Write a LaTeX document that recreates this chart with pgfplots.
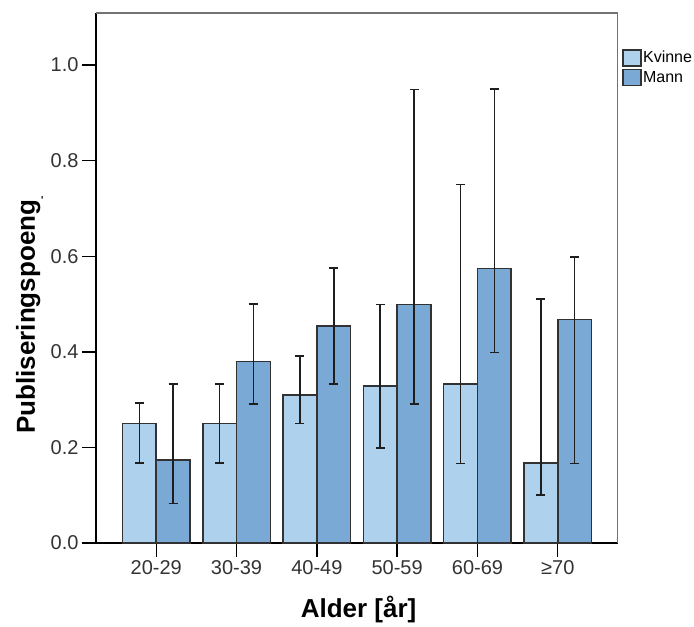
\documentclass[border=0pt]{standalone}
\usepackage{fontspec}
\setmainfont{Liberation Sans}
\usepackage{pgfplots}
\pgfplotsset{compat=1.18}

\definecolor{kvinne}{RGB}{174,209,238}
\definecolor{mann}{RGB}{122,169,214}
\definecolor{edge}{RGB}{50,50,50}
\definecolor{ebar}{RGB}{30,30,30}

\pgfplotsset{
    barstyle/.style={ybar, bar shift=0pt, draw=edge, line width=1.5pt,
        error bars/y dir=both, error bars/y explicit,
        error bars/error bar style={line width=1.6pt, ebar},
        error bars/error mark options={rotate=90, mark size=4.5pt, line width=1.6pt, ebar}},
}

\begin{document}
\begin{tikzpicture}
\useasboundingbox (-96pt,-84pt) rectangle (598pt,543pt);
\begin{axis}[
    at={(0pt,0pt)}, anchor=south west,
    scale only axis,
    width=522pt, height=530pt,
    xmin=-0.75, xmax=5.75,
    ymin=0, ymax=1.109,
    axis x line*=bottom, axis y line*=left,
    axis line style={black, line width=1.4pt},
    xtick={0,...,5},
    xticklabels={20-29,30-39,40-49,50-59,60-69,≥70},
    ytick={0,0.2,0.4,0.6,0.8,1.0},
    yticklabel style={/pgf/number format/.cd, fixed, fixed zerofill, precision=1},
    /pgf/number format/assume math mode=true,
    tick align=outside,
    major tick length=14pt,
    tick style={black, line width=1.4pt},
    ticklabel style={font=\fontsize{20}{24}\selectfont, text=black!80},
    xlabel={Alder [år]},
    ylabel={Publiseringspoeng\raisebox{-10pt}{\fontsize{10}{10}\selectfont -}},
    label style={font=\fontsize{26}{30}\selectfont\bfseries},
    xlabel style={at={(axis description cs:0.503,-0.1415)}, anchor=base},
    ylabel style={at={(axis description cs:-0.117,0.43)}, anchor=base},
    bar width=0.42,
    legend style={at={(axis description cs:1.0077,0.932)}, anchor=north west,
        draw=none, fill=none, inner sep=0pt, row sep=2pt,
        font=\fontsize{16}{18}\selectfont, nodes={inner sep=1.5pt}},
    legend cell align=left,
]
\addplot[barstyle, fill=kvinne,
    legend image code/.code={\draw[fill=kvinne, draw=edge, line width=1.4pt] (0pt,-8pt) rectangle (18pt,8pt);}]
coordinates {
    (-0.21,0.250) += (0,0.043) -= (0,0.083)
    (0.79,0.250) += (0,0.083) -= (0,0.083)
    (1.79,0.310) += (0,0.081) -= (0,0.060)
    (2.79,0.329) += (0,0.170) -= (0,0.130)
    (3.79,0.333) += (0,0.417) -= (0,0.167)
    (4.79,0.167) += (0,0.344) -= (0,0.067)
};
\addlegendentry{Kvinne}
\addplot[barstyle, fill=mann,
    legend image code/.code={\draw[fill=mann, draw=edge, line width=1.4pt] (0pt,-8pt) rectangle (18pt,8pt);}]
coordinates {
    (0.21,0.174) += (0,0.159) -= (0,0.091)
    (1.21,0.380) += (0,0.120) -= (0,0.089)
    (2.21,0.454) += (0,0.121) -= (0,0.121)
    (3.21,0.499) += (0,0.450) -= (0,0.208)
    (4.21,0.574) += (0,0.376) -= (0,0.175)
    (5.21,0.468) += (0,0.131) -= (0,0.302)
};
\addlegendentry{Mann}
\draw[black!55, line width=1.4pt] (rel axis cs:0,1) -- (rel axis cs:1,1) -- (rel axis cs:1,0);
\end{axis}
\end{tikzpicture}
\end{document}
